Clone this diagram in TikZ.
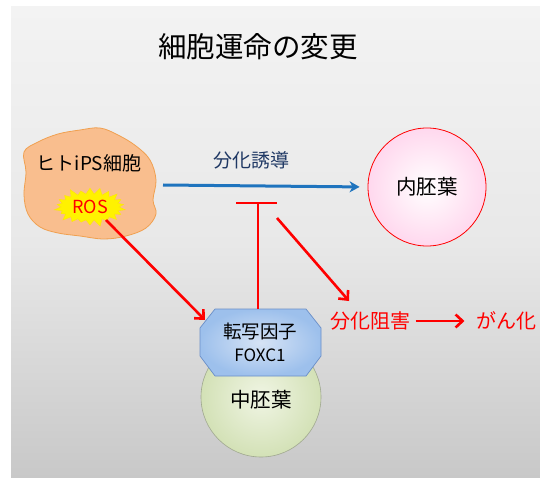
\documentclass[tikz,border=0pt]{standalone}
\usepackage{fontspec}
\setmainfont{Noto Sans CJK JP}
\usetikzlibrary{arrows.meta,shapes.symbols,shapes.geometric}
\definecolor{panelTop}{HTML}{F3F3F3}
\definecolor{panelBot}{HTML}{C8C8C8}
\definecolor{blobFill}{HTML}{F9BE8E}
\definecolor{blobLine}{HTML}{F0A050}
\definecolor{arrowBlue}{HTML}{1F74BE}
\definecolor{labelNavy}{HTML}{1F3864}
\definecolor{pinkOut}{HTML}{FFD8EE}
\definecolor{greenOut}{HTML}{D3E1B6}
\definecolor{greenIn}{HTML}{F0F5E4}
\definecolor{greenLine}{HTML}{A0A890}
\definecolor{octIn}{HTML}{D6E3F5}
\definecolor{octOut}{HTML}{9DC0EC}
\definecolor{octLine}{HTML}{6A8FC8}
\tikzset{
  redarrow/.style={draw=red, line width=2.6pt, -{Straight Barb[length=7pt,width=13pt,line width=2.6pt]}},
  redtext/.style={text=red, font=\fontsize{20}{22}\selectfont},
  cjklabel/.style={font=\fontsize{20.5}{22}\selectfont},
}
\begin{document}
\begin{tikzpicture}[x=1pt,y=-1pt]
\useasboundingbox (0,0) rectangle (540,478);
% panel
\shade[top color=panelTop, bottom color=panelBot, middle color=panelTop!75!panelBot] (11,7) rectangle (540,478);
% title
\node[font=\fontsize{28.5}{30}\selectfont] (title) at (258,47) {細胞運命の変更};
% blob
\draw[fill=blobFill, draw=blobLine, line width=0.8pt] plot[smooth cycle, tension=0.6] coordinates {
 (38,142) (58,134) (80,130) (100,128) (118,135) (136,146) (150,160) (156,180) (153,200) (156,214) (146,228) (126,236) (104,239) (80,236) (58,233) (40,227) (28,214) (24,195) (26,172) (24,152)};
\node[font=\fontsize{19}{21}\selectfont] (ips) at (89,163) {ヒトiPS細胞};
\node[starburst, starburst points=22, starburst point height=8pt, fill=yellow, draw=yellow!90!orange, line width=0.4pt, minimum width=74pt, minimum height=42pt, inner sep=0pt, text=red, font=\fontsize{18}{20}\selectfont] (ros) at (90,207) {ROS};
% endoderm
\node[circle, minimum size=118pt, draw=red, line width=0.8pt, inner color=white, outer color=pinkOut, cjklabel] (endo) at (427,187) {内胚葉};
% blue arrow
\coordinate (bs) at (163,185);
\draw[draw=arrowBlue, line width=3pt, -{Stealth[length=10pt,width=11pt,inset=3pt]}, shorten >=8pt] (bs) -- (endo.west);
\node[text=labelNavy, font=\fontsize{19}{21}\selectfont] (induce) at (251,160) {分化誘導};
% mesoderm
\node[circle, minimum size=120pt, draw=greenLine, line width=0.6pt, inner color=greenIn, outer color=greenOut, cjklabel] (meso) at (261,397) {};
\node[cjklabel] (mesotext) at (261,400) {中胚葉};
% octagon
\shade[inner color=octIn, outer color=octOut] (215,309) -- (306,309) -- (321,328) -- (321,356) -- (306,376) -- (215,376) -- (200,356) -- (200,328) -- cycle;
\draw[draw=octLine, line width=0.7pt] (215,309) -- (306,309) -- (321,328) -- (321,356) -- (306,376) -- (215,376) -- (200,356) -- (200,328) -- cycle;
\node[font=\fontsize{18.5}{20}\selectfont] (tf) at (260,331) {転写因子};
\node[font=\fontsize{17}{18}\selectfont] (foxc) at (260,355) {FOXC1};
\coordinate (octtop) at (258,309);
\coordinate (octcorner) at (205,320);
% red T bar
\coordinate (tbar) at (258,203);
\coordinate (tbarL) at (236,203);
\coordinate (tbarR) at (277,203);
\draw[red, line width=2.8pt] (octtop) -- (tbar);
\draw[red, line width=2.8pt] (tbarL) -- (tbarR);
% red arrows
\coordinate (rosout) at (106,220);
\draw[redarrow] (rosout) -- (octcorner);
\node[redtext] (inhib) at (370,321) {分化阻害};
\node[redtext] (cancer) at (506,321) {がん化};
\coordinate (inhs) at (277,218);
\coordinate (inht) at (349,301);
\draw[redarrow] (inhs) -- (inht);
\draw[redarrow, shorten >=8pt, shorten <=2pt] (inhib.east) -- (cancer.west);
\end{tikzpicture}
\end{document}
